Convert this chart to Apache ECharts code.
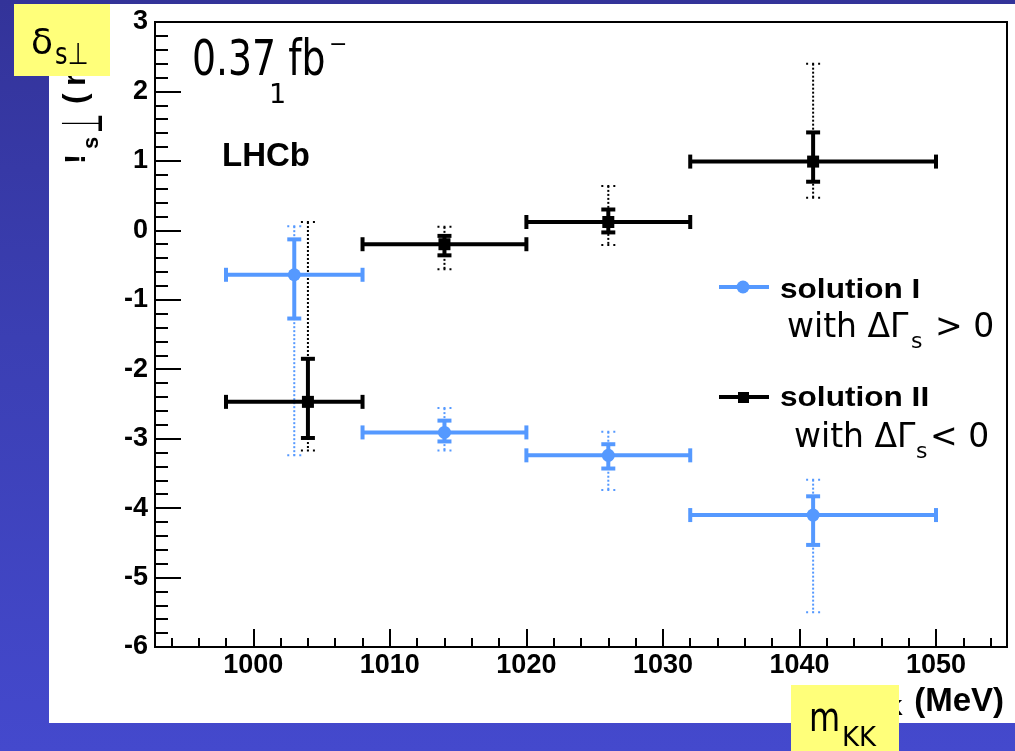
<!DOCTYPE html>
<html>
<head>
<meta charset="utf-8">
<script src="https://cdn.jsdelivr.net/npm/echarts@6/dist/echarts.min.js"></script>
<style>
html,body{margin:0;padding:0;width:1015px;height:751px;overflow:hidden;
 background:linear-gradient(to bottom,#333399 0%,#3b3fb3 45%,#4449cd 100%);}
#panel{position:absolute;left:49px;top:4px;width:966px;height:719px;background:#ffffff;}
#main{position:absolute;left:0;top:0;width:1015px;height:751px;}
</style>
</head>
<body>
<div id="panel"></div>
<div id="main"></div>
<script>
// ---- data ----
const binLow  = [998, 1008, 1020, 1032];
const binHigh = [1008, 1020, 1032, 1050];

const xSol1      = [1003, 1014, 1026, 1041];
const ySol1      = [-0.64, -2.91, -3.24, -4.10];
const statLoSol1 = [-1.27, -3.04, -3.43, -4.53];
const statHiSol1 = [-0.13, -2.74, -3.08, -3.83];
const totLoSol1  = [-3.24, -3.17, -3.74, -5.50];
const totHiSol1  = [0.06, -2.56, -2.90, -3.59];

const xSol2      = [1004, 1014, 1026, 1041];
const ySol2      = [-2.47, -0.20, 0.12, 0.99];
const statLoSol2 = [-2.99, -0.36, -0.03, 0.70];
const statHiSol2 = [-1.85, -0.08, 0.30, 1.41];
const totLoSol2  = [-3.17, -0.56, -0.21, 0.47];
const totHiSol2  = [0.12, 0.05, 0.64, 2.40];

const xTickLabels = [1000, 1010, 1020, 1030, 1040, 1050];
const xMinorTicks = [994, 996, 998, 1002, 1004, 1006, 1008, 1012, 1014, 1016, 1018, 1022, 1024, 1026, 1028, 1032, 1034, 1036, 1038, 1042, 1044, 1046, 1048, 1052, 1054];

// ---- build ----
function rows(xs, ys, sLo, sHi, tLo, tHi) {
  return xs.map((x, i) => [x, ys[i], binLow[i], binHigh[i], sLo[i], sHi[i], tLo[i], tHi[i]]);
}
const data1 = rows(xSol1, ySol1, statLoSol1, statHiSol1, totLoSol1, totHiSol1);
const data2 = rows(xSol2, ySol2, statLoSol2, statHiSol2, totLoSol2, totHiSol2);

const BLUE = '#5599ff';
const BLACK = '#000000';

function statRender(color, marker) {
  return function (params, api) {
    const x = api.value(0), y = api.value(1);
    const c  = api.coord([x, y]);
    const pl = api.coord([api.value(2), y]);
    const ph = api.coord([api.value(3), y]);
    const pb = api.coord([x, api.value(4)]);
    const pt = api.coord([x, api.value(5)]);
    const st = { stroke: color, lineWidth: 4 };
    const ch = [
      { type: 'line', shape: { x1: pl[0], y1: c[1], x2: ph[0], y2: c[1] }, style: st },
      { type: 'line', shape: { x1: pl[0], y1: c[1] - 7, x2: pl[0], y2: c[1] + 7 }, style: st },
      { type: 'line', shape: { x1: ph[0], y1: c[1] - 7, x2: ph[0], y2: c[1] + 7 }, style: st },
      { type: 'line', shape: { x1: c[0], y1: pt[1], x2: c[0], y2: pb[1] }, style: st },
      { type: 'line', shape: { x1: c[0] - 7, y1: pt[1], x2: c[0] + 7, y2: pt[1] }, style: st },
      { type: 'line', shape: { x1: c[0] - 7, y1: pb[1], x2: c[0] + 7, y2: pb[1] }, style: st }
    ];
    if (marker === 'circle') {
      ch.push({ type: 'circle', shape: { cx: c[0], cy: c[1], r: 6.5 }, style: { fill: color } });
    } else {
      ch.push({ type: 'rect', shape: { x: c[0] - 6, y: c[1] - 6, width: 12, height: 12 }, style: { fill: color } });
    }
    return { type: 'group', children: ch };
  };
}
function totRender(color) {
  return function (params, api) {
    const x = api.value(0);
    const pb = api.coord([x, api.value(6)]);
    const pt = api.coord([x, api.value(7)]);
    const st = { stroke: color, lineWidth: 2, lineDash: [2, 2] };
    const cs = { stroke: color, lineWidth: 2, lineDash: [2, 4] };
    return { type: 'group', children: [
      { type: 'line', shape: { x1: pt[0], y1: pt[1], x2: pb[0], y2: pb[1] }, style: st },
      { type: 'line', shape: { x1: pt[0] - 7, y1: pt[1], x2: pt[0] + 7, y2: pt[1] }, style: cs },
      { type: 'line', shape: { x1: pb[0] - 7, y1: pb[1], x2: pb[0] + 7, y2: pb[1] }, style: cs }
    ]};
  };
}

const SANS = 'Liberation Sans, Arial, Helvetica, sans-serif';
const DJV = 'DejaVu Sans, Verdana, sans-serif';
function txt(text, x, y, fs, o) {
  o = o || {};
  return {
    type: 'text', x: x, y: y, z: o.z || 50, silent: true,
    rotation: o.rotation || 0, scaleX: o.sx || 1, scaleY: o.sy || 1,
    style: { text: text, fontSize: fs, fontFamily: o.font || SANS, fontWeight: o.bold ? 'bold' : 'normal',
             fill: '#000', align: o.align || 'left', verticalAlign: 'middle' }
  };
}

const chart = echarts.init(document.getElementById('main'), null, { renderer: 'canvas' });
const option = {
  backgroundColor: 'transparent',
  animation: false,
  grid: { left: 155, right: 8, top: 22, bottom: 104, show: true, borderColor: '#000', borderWidth: 2,
          backgroundColor: 'transparent', containLabel: false, outerBoundsMode: 'none' },
  xAxis: [
    { type: 'value', min: 992.8, max: 1055.2, position: 'bottom',
      axisLine: { show: true, onZero: false, lineStyle: { color: '#000', width: 2 } },
      axisTick: { show: true, inside: true, length: 18, customValues: xTickLabels, lineStyle: { color: '#000', width: 2 } },
      axisLabel: { show: true, customValues: xTickLabels, margin: 5, color: '#000', fontSize: 27, fontWeight: 'bold', fontFamily: SANS,
                   formatter: function (v) { return String(v); } },
      splitLine: { show: false } },
    { type: 'value', min: 992.8, max: 1055.2, position: 'bottom',
      axisLine: { show: false, onZero: false },
      axisTick: { show: true, inside: true, length: 9, customValues: xMinorTicks, lineStyle: { color: '#000', width: 2 } },
      axisLabel: { show: false },
      splitLine: { show: false } }
  ],
  yAxis: {
    type: 'value', min: -6, max: 3, interval: 1,
    axisLine: { show: true, onZero: false, lineStyle: { color: '#000', width: 2 } },
    axisTick: { show: true, inside: true, length: 26, lineStyle: { color: '#000', width: 2 } },
    minorTick: { show: true, splitNumber: 5, length: 13, lineStyle: { color: '#000', width: 2 } },
    axisLabel: { margin: 7, color: '#000', fontSize: 27, fontWeight: 'bold', fontFamily: SANS,
                 formatter: function (v) { return String(v); } },
    splitLine: { show: false }, minorSplitLine: { show: false }
  },
  series: [
    { type: 'custom', name: 'tot1', xAxisIndex: 0, data: data1, renderItem: totRender(BLUE), z: 3, clip: false, encode: { x: 0, y: 1 } },
    { type: 'custom', name: 'tot2', xAxisIndex: 0, data: data2, renderItem: totRender(BLACK), z: 3, clip: false, encode: { x: 0, y: 1 } },
    { type: 'custom', name: 'solution I', xAxisIndex: 0, data: data1, renderItem: statRender(BLUE, 'circle'), z: 5, clip: false, encode: { x: 0, y: 1 } },
    { type: 'custom', name: 'solution II', xAxisIndex: 0, data: data2, renderItem: statRender(BLACK, 'square'), z: 6, clip: false, encode: { x: 0, y: 1 } }
  ],
  graphic: [
    // luminosity label
    txt('0.37 fb', 192, 62, 45, { font: DJV, sx: 0.84, sy: 1.1 }),
    txt('\u2212', 329, 45, 22, { font: DJV }),
    txt('1', 269, 95.5, 27, { font: DJV }),
    txt('LHCb', 222, 156.5, 33, { bold: true }),
    // legend
    { type: 'line', z: 50, silent: true, shape: { x1: 719, y1: 287, x2: 769, y2: 287 }, style: { stroke: BLUE, lineWidth: 4 } },
    { type: 'circle', z: 51, silent: true, shape: { cx: 743, cy: 287, r: 6.5 }, style: { fill: BLUE } },
    txt('solution I', 780, 290.5, 27, { bold: true, sx: 1.17 }),
    txt('with \u0394\u0393', 787, 328.5, 33, { font: DJV }),
    txt('s', 911, 342.3, 22, { font: DJV }),
    txt('> 0', 935, 328.5, 33, { font: DJV }),
    { type: 'line', z: 50, silent: true, shape: { x1: 719, y1: 397, x2: 769, y2: 397 }, style: { stroke: BLACK, lineWidth: 4 } },
    { type: 'rect', z: 51, silent: true, shape: { x: 738, y: 392, width: 11, height: 11 }, style: { fill: BLACK } },
    txt('solution II', 780, 398.9, 27, { bold: true, sx: 1.17 }),
    txt('with \u0394\u0393', 794, 438.5, 33, { font: DJV }),
    txt('s', 916, 452.3, 22, { font: DJV }),
    txt('< 0', 930, 438.5, 33, { font: DJV }),
    // x-axis title (partly hidden)
    txt('(MeV)', 1004, 701.5, 33, { bold: true, align: 'right' }),
    txt('KK', 903, 709.3, 22, { bold: true, align: 'right' }),
    txt('m', 871, 701.5, 33, { bold: true, align: 'right' }),
    // y-axis title (rotated, partly hidden)
    txt('!', 76.5, 164, 30, { bold: true, rotation: Math.PI / 2 }),
    txt('s', 92.3, 149, 22, { bold: true, rotation: Math.PI / 2 }),
    txt('\u22a5', 87.5, 133, 22, { font: DJV, rotation: Math.PI / 2, sy: 2.6 }),
    txt('(', 76.5, 104, 32, { bold: true, rotation: Math.PI / 2 }),
    txt('rad)', 76.5, 86, 32, { bold: true, rotation: Math.PI / 2 }),
    // yellow boxes
    { type: 'rect', z: 100, silent: true, shape: { x: 14, y: 4, width: 96, height: 72 }, style: { fill: '#ffff7a' } },
    txt('\u03b4', 31, 44.4, 36, { font: DJV, z: 101 }),
    txt('s\u22a5', 55, 56.5, 24, { font: DJV, z: 101, sy: 1.25 }),
    { type: 'rect', z: 100, silent: true, shape: { x: 791, y: 685, width: 108, height: 66 }, style: { fill: '#ffff7a' } },
    txt('m', 809, 721, 32, { font: DJV, z: 101, sy: 1.25 }),
    txt('KK', 842, 739, 26, { font: DJV, z: 101 })
  ]
};
chart.setOption(option);
</script>
</body>
</html>
